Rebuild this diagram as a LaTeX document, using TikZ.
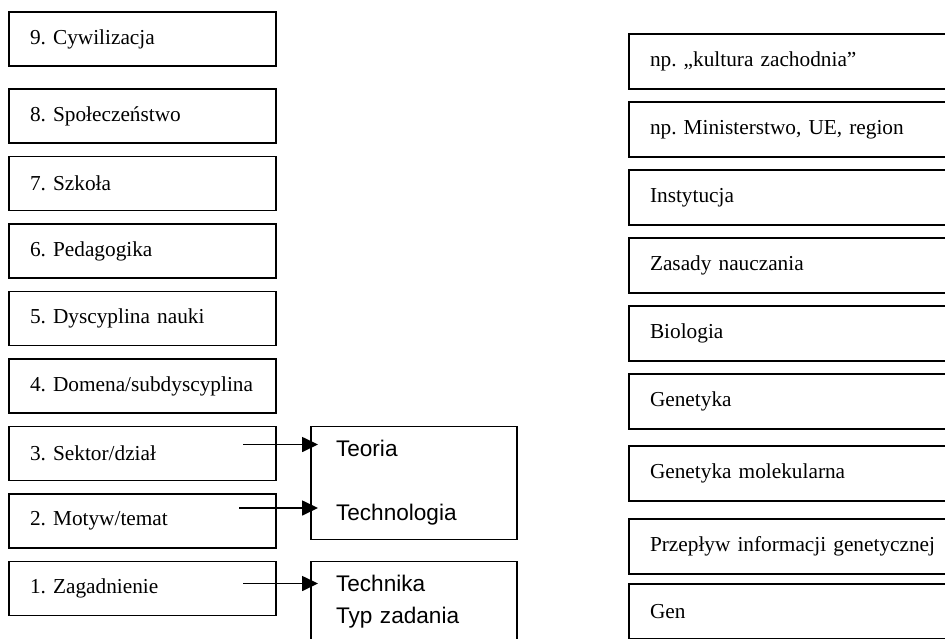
\documentclass[tikz,border=0pt]{standalone}
\usepackage{fontspec}
\setmainfont{Liberation Serif}
\newfontfamily\arialfont{Liberation Sans}
\usepackage{tikz}
\usetikzlibrary{arrows.meta,positioning,calc}
\frenchspacing
\hyphenpenalty=10000
\tikzset{
  levelbox/.style={draw, line width=1.9pt, outer sep=0pt, minimum height=54pt, text width=225pt, inner xsep=21pt, align=left, font=\fontsize{21.3pt}{25pt}\selectfont},
  examplebox/.style={levelbox, minimum height=55pt, text width=300pt},
  typebox/.style={draw, line width=1.9pt, outer sep=0pt, text width=156pt, inner xsep=25pt, align=left},
  arrow/.style={-{Triangle[length=16pt,width=15pt]}, line width=1.7pt}
}

\begin{document}
\begin{tikzpicture}[node distance=13.5pt]
\useasboundingbox (0,0) rectangle (945pt,-638pt);
\clip (0,0) rectangle (945pt,-638pt);
% levels
\node[levelbox, anchor=north west] (l9) at (9pt,-12pt) {9. Cywilizacja};
\node[levelbox, below=23pt of l9] (l8) {8. Społeczeństwo};
\node[levelbox, below=of l8] (l7) {7. Szkoła};
\node[levelbox, below=of l7] (l6) {6. Pedagogika};
\node[levelbox, below=of l6] (l5) {5. Dyscyplina nauki};
\node[levelbox, below=of l5] (l4) {4. Domena/subdyscyplina};
\node[levelbox, below=of l4] (l3) {3. Sektor/dział};
\node[levelbox, below=of l3] (l2) {2. Motyw/temat};
\node[levelbox, below=of l2] (l1) {1. Zagadnienie};
% examples
\node[examplebox, anchor=north west] (r1) at (629pt,-34pt) {np. „kultura zachodnia”};
\node[examplebox, below=13pt of r1] (r2) {np. Ministerstwo, UE, region};
\node[examplebox, below=13pt of r2] (r3) {Instytucja};
\node[examplebox, below=13pt of r3] (r4) {Zasady nauczania};
\node[examplebox, below=13pt of r4] (r5) {Biologia};
\node[examplebox, below=13pt of r5] (r6) {Genetyka};
\node[examplebox, below=17pt of r6] (r7) {Genetyka molekularna};
\node[examplebox, below=18pt of r7] (r8) {Przepływ informacji genetycznej};
\node[examplebox, below=10pt of r8] (r9) {Gen};
% types
\node[typebox, minimum height=113pt, font=\arialfont\fontsize{22.6pt}{64pt}\selectfont,
  below right=0pt and 35pt of l3.north east] (m1) {Teoria\\Technologia};
\node[typebox, minimum height=80pt, font=\arialfont\fontsize{22.6pt}{32pt}\selectfont,
  below right=0pt and 35pt of l1.north east] (m2) {Technika\\Typ zadania};
\draw[arrow] ($(l3.east)+(-33pt,9pt)$) -- ($(m1.west|-l3.east)+(7pt,9pt)$);
\draw[arrow] ($(l2.east)+(-37pt,13pt)$) -- ($(m1.west|-l2.east)+(7pt,13pt)$);
\draw[arrow] ($(l1.east)+(-33pt,5pt)$) -- ($(m2.west|-l1.east)+(7pt,5pt)$);
\end{tikzpicture}
\end{document}
